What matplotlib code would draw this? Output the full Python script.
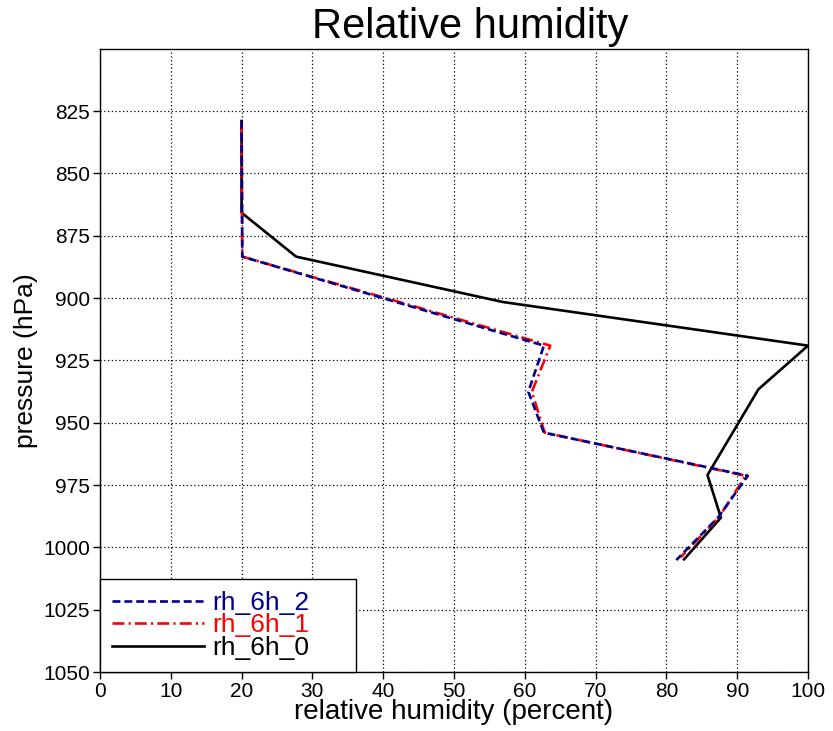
import matplotlib.pyplot as plt

plt.rcParams['font.family'] = ['Liberation Sans', 'DejaVu Sans']

# rh_6h_0 (schwarz)
p0 = [829, 865.8, 883.4, 901.6, 919.1, 936.6, 971.0, 988.1, 1004.8]
rh0 = [20.0, 20.0, 27.7, 56.9, 100.0, 93.0, 85.8, 87.7, 82.5]

# rh_6h_1 (rot)
p1 = [829, 883.4, 919.1, 937.6, 954.0, 971.3, 988.0, 1004.0]
rh1 = [20.0, 20.1, 63.6, 61.0, 62.8, 91.2, 87.4, 82.0]

# rh_6h_2 (blau)
p2 = [829, 883.4, 919.1, 937.6, 954.0, 971.3, 988.0, 1005.1]
rh2 = [20.0, 20.1, 62.7, 60.5, 62.7, 91.5, 87.3, 81.4]

xticks = list(range(0, 101, 10))
yticks = list(range(825, 1051, 25))

fig = plt.figure(figsize=(8.33, 7.31), dpi=100)
ax = fig.add_axes([0.120, 0.0807, 0.850, 0.8527])

ax.plot(rh0, p0, color="black", lw=1.9, label="rh_6h_0", zorder=3)
ax.plot(rh1, p1, color="red", lw=1.9, dashes=(4.5, 1.6, 0.8, 1.6), label="rh_6h_1", zorder=4)
ax.plot(rh2, p2, color="#00008f", lw=1.9, dashes=(3.0, 1.5), label="rh_6h_2", zorder=5)

ax.set_xlim(0, 100)
ax.set_ylim(1050, 800)
ax.set_xticks(xticks)
ax.set_yticks(yticks)
ax.tick_params(labelsize=15, direction="out", length=5, width=1, pad=2)
ax.grid(True, color="black", linestyle=(0, (1, 2)), lw=0.9)
for s in ax.spines.values():
    s.set_linewidth(1)

ax.set_xlabel("relative humidity (percent)", fontsize=20, labelpad=-1)
ax.set_ylabel("pressure (hPa)", fontsize=19, labelpad=4)
fig.text(0.565, 0.963, "Relative humidity", fontsize=30, ha="center", va="center")

# Legende unten links, Reihenfolge umgedreht
h, l = ax.get_legend_handles_labels()
leg = ax.legend(h[::-1], l[::-1], loc="lower left", bbox_to_anchor=(0, 0, 0.362, 0.2),
                mode="expand", borderaxespad=0, fontsize=19, fancybox=False,
                framealpha=1, edgecolor="black", handlelength=3.5,
                handletextpad=0.3, labelspacing=-0.05, borderpad=0.45)
leg.get_frame().set_linewidth(1)
for t, c in zip(leg.get_texts(), ["#00008f", "red", "black"]):
    t.set_color(c)
leg.set_zorder(10)

fig.savefig("out.png", dpi=100)
